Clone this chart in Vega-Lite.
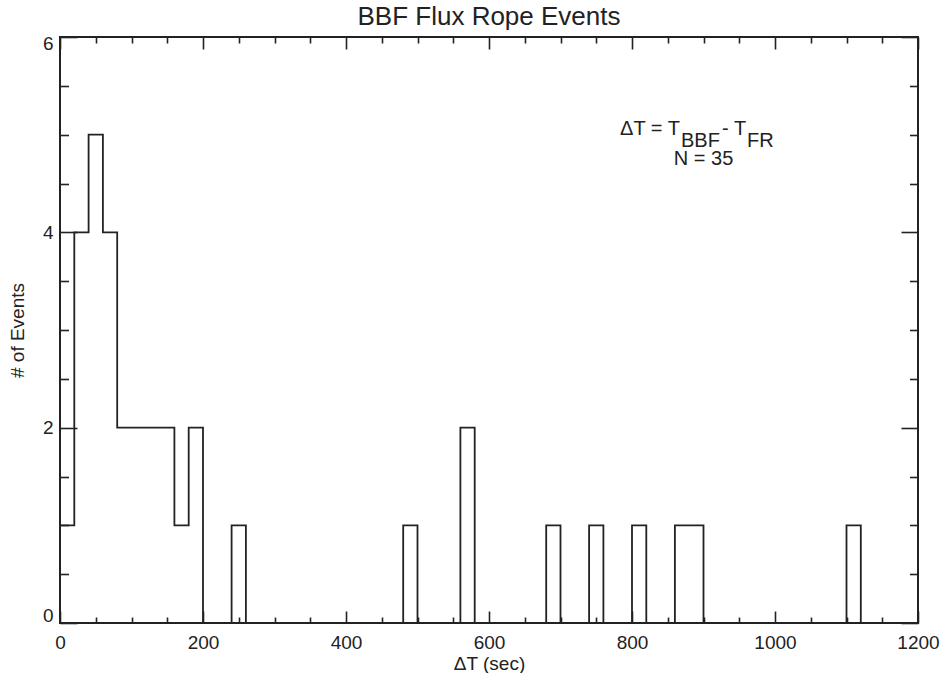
{
  "$schema": "https://vega.github.io/schema/vega-lite/v6.json",
  "width": 858,
  "height": 586,
  "autosize": {"type": "none"},
  "padding": {"left": 60, "top": 37, "right": 26, "bottom": 50},
  "background": "white",
  "title": {"text": "BBF Flux Rope Events", "fontSize": 26, "font": "Liberation Sans", "fontWeight": "normal", "color": "#222", "offset": 5, "anchor": "middle"},
  "config": {
    "view": {"stroke": "#222", "strokeWidth": 2},
    "axis": {"domain": false, "grid": false, "labelFont": "Liberation Sans", "titleFont": "Liberation Sans", "labelFontSize": 19, "titleFontSize": 19, "labelColor": "#222", "titleColor": "#222", "titleFontWeight": "normal", "tickColor": "#222", "tickWidth": 1.6, "format": "d", "labelOverlap": false}
  },
  "data": {"values": [
    {"start": 0, "count": 1}, {"start": 20, "count": 4}, {"start": 40, "count": 5}, {"start": 60, "count": 4},
    {"start": 80, "count": 2}, {"start": 100, "count": 2}, {"start": 120, "count": 2}, {"start": 140, "count": 2},
    {"start": 160, "count": 1}, {"start": 180, "count": 2}, {"start": 200, "count": 0}, {"start": 220, "count": 0},
    {"start": 240, "count": 1}, {"start": 260, "count": 0}, {"start": 280, "count": 0}, {"start": 300, "count": 0},
    {"start": 320, "count": 0}, {"start": 340, "count": 0}, {"start": 360, "count": 0}, {"start": 380, "count": 0},
    {"start": 400, "count": 0}, {"start": 420, "count": 0}, {"start": 440, "count": 0}, {"start": 460, "count": 0},
    {"start": 480, "count": 1}, {"start": 500, "count": 0}, {"start": 520, "count": 0}, {"start": 540, "count": 0},
    {"start": 560, "count": 2}, {"start": 580, "count": 0}, {"start": 600, "count": 0}, {"start": 620, "count": 0},
    {"start": 640, "count": 0}, {"start": 660, "count": 0}, {"start": 680, "count": 1}, {"start": 700, "count": 0},
    {"start": 720, "count": 0}, {"start": 740, "count": 1}, {"start": 760, "count": 0}, {"start": 780, "count": 0},
    {"start": 800, "count": 1}, {"start": 820, "count": 0}, {"start": 840, "count": 0}, {"start": 860, "count": 1},
    {"start": 880, "count": 1}, {"start": 900, "count": 0}, {"start": 920, "count": 0}, {"start": 940, "count": 0},
    {"start": 960, "count": 0}, {"start": 980, "count": 0}, {"start": 1000, "count": 0}, {"start": 1020, "count": 0},
    {"start": 1040, "count": 0}, {"start": 1060, "count": 0}, {"start": 1080, "count": 0}, {"start": 1100, "count": 1},
    {"start": 1120, "count": 0}, {"start": 1140, "count": 0}, {"start": 1160, "count": 0}, {"start": 1180, "count": 0}
  ]},
  "layer": [
    {
      "mark": {"type": "line", "interpolate": "step-after", "color": "#222", "strokeWidth": 1.8},
      "encoding": {
        "x": {"field": "start", "type": "quantitative", "scale": {"domain": [0, 1200], "nice": false, "zero": false},
              "axis": {"orient": "bottom", "values": [0, 200, 400, 600, 800, 1000, 1200], "ticks": false, "labelPadding": 10, "labelFlush": false, "title": "ΔT (sec)", "titlePadding": 2}},
        "y": {"field": "count", "type": "quantitative", "scale": {"domain": [0, 6], "nice": false, "zero": true},
              "axis": {"orient": "left", "values": [0, 2, 4, 6], "ticks": false, "labelPadding": 7, "labelFlush": true, "labelFlushOffset": 2.5, "title": "# of Events", "titlePadding": 15}}
      }
    },
    {
      "mark": {"type": "point", "opacity": 0},
      "encoding": {
        "x": {"field": "start", "type": "quantitative", "axis": {"orient": "bottom", "values": [0, 200, 400, 600, 800, 1000, 1200], "labels": false, "title": null, "tickSize": -12, "minExtent": 0}},
        "y": {"field": "count", "type": "quantitative", "axis": {"orient": "left", "values": [0, 2, 4, 6], "labels": false, "title": null, "tickSize": -17, "minExtent": 0}}
      }
    },
    {
      "mark": {"type": "point", "opacity": 0},
      "encoding": {
        "x": {"field": "start", "type": "quantitative", "axis": {"orient": "bottom", "values": [50, 100, 150, 250, 300, 350, 450, 500, 550, 650, 700, 750, 850, 900, 950, 1050, 1100, 1150], "labels": false, "title": null, "tickSize": -6, "minExtent": 0}},
        "y": {"field": "count", "type": "quantitative", "axis": {"orient": "left", "values": [0.5, 1, 1.5, 2.5, 3, 3.5, 4.5, 5, 5.5], "labels": false, "title": null, "tickSize": -8.5, "minExtent": 0}}
      }
    },
    {
      "mark": {"type": "point", "opacity": 0},
      "encoding": {
        "x": {"field": "start", "type": "quantitative", "axis": {"orient": "top", "values": [0, 200, 400, 600, 800, 1000, 1200], "labels": false, "title": null, "tickSize": -12, "minExtent": 0}},
        "y": {"field": "count", "type": "quantitative", "axis": {"orient": "right", "values": [0, 2, 4, 6], "labels": false, "title": null, "tickSize": -17, "minExtent": 0}}
      }
    },
    {
      "mark": {"type": "point", "opacity": 0},
      "encoding": {
        "x": {"field": "start", "type": "quantitative", "axis": {"orient": "top", "values": [50, 100, 150, 250, 300, 350, 450, 500, 550, 650, 700, 750, 850, 900, 950, 1050, 1100, 1150], "labels": false, "title": null, "tickSize": -6, "minExtent": 0}},
        "y": {"field": "count", "type": "quantitative", "axis": {"orient": "right", "values": [0.5, 1, 1.5, 2.5, 3, 3.5, 4.5, 5, 5.5], "labels": false, "title": null, "tickSize": -8.5, "minExtent": 0}}
      }
    },
    {
      "data": {"values": [{}]},
      "mark": {"type": "text", "text": "ΔT = T", "align": "right", "baseline": "alphabetic", "font": "Liberation Sans", "fontSize": 20, "color": "#222"},
      "encoding": {"x": {"datum": 867, "type": "quantitative", "axis": null}, "y": {"datum": 5, "type": "quantitative", "axis": null}}
    },
    {
      "data": {"values": [{}]},
      "mark": {"type": "text", "text": "BBF", "align": "left", "baseline": "alphabetic", "dy": 12, "font": "Liberation Sans", "fontSize": 20, "color": "#222"},
      "encoding": {"x": {"datum": 868.5, "type": "quantitative", "axis": null}, "y": {"datum": 5, "type": "quantitative", "axis": null}}
    },
    {
      "data": {"values": [{}]},
      "mark": {"type": "text", "text": "- T", "align": "left", "baseline": "alphabetic", "font": "Liberation Sans", "fontSize": 20, "color": "#222"},
      "encoding": {"x": {"datum": 926, "type": "quantitative", "axis": null}, "y": {"datum": 5, "type": "quantitative", "axis": null}}
    },
    {
      "data": {"values": [{}]},
      "mark": {"type": "text", "text": "FR", "align": "left", "baseline": "alphabetic", "dy": 12, "font": "Liberation Sans", "fontSize": 20, "color": "#222"},
      "encoding": {"x": {"datum": 961, "type": "quantitative", "axis": null}, "y": {"datum": 5, "type": "quantitative", "axis": null}}
    },
    {
      "data": {"values": [{}]},
      "mark": {"type": "text", "text": "N = 35", "align": "center", "baseline": "alphabetic", "font": "Liberation Sans", "fontSize": 20, "color": "#222"},
      "encoding": {"x": {"datum": 900, "type": "quantitative", "axis": null}, "y": {"datum": 4.69, "type": "quantitative", "axis": null}}
    }
  ],
  "resolve": {"axis": {"x": "independent", "y": "independent"}}
}
